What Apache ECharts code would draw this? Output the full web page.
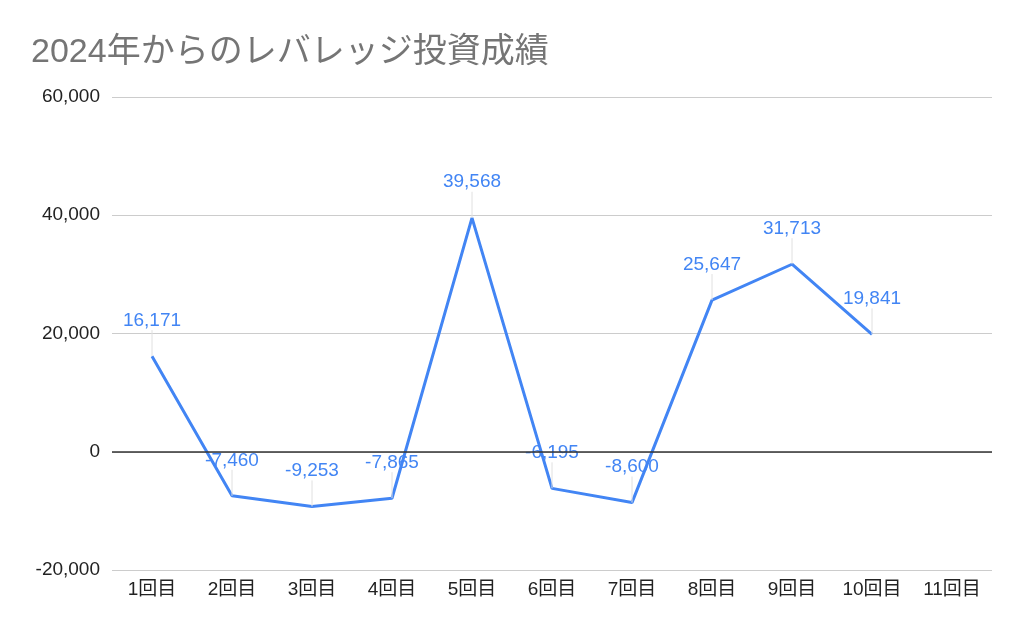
<!DOCTYPE html>
<html>
<head>
<meta charset="utf-8">
<script src="https://cdn.jsdelivr.net/npm/echarts@6/dist/echarts.min.js"></script>
<style>
html, body { margin: 0; padding: 0; background: #fff; }
#main { width: 1024px; height: 633px; }
</style>
</head>
<body>
<div id="main"></div>
<script>
var categories = ['1回目', '2回目', '3回目', '4回目', '5回目', '6回目', '7回目', '8回目', '9回目', '10回目', '11回目'];
var results = [16171, -7460, -9253, -7865, 39568, -6195, -8600, 25647, 31713, 19841, null];
var yTicks = [-20000, 0, 20000, 40000, 60000];

var font = '"Liberation Sans", Arial, "Noto Sans CJK JP", sans-serif';
var myChart = echarts.init(document.getElementById('main'));

myChart.setOption({
    animation: false,
    title: {
        text: '2024年からのレバレッジ投資成績',
        left: 26,
        top: 31,
        textStyle: {
            color: '#757575',
            fontSize: 34,
            fontWeight: 'normal',
            fontFamily: font
        }
    },
    grid: { left: 112, right: 32, top: 97, bottom: 63 },
    xAxis: {
        type: 'category',
        data: categories,
        boundaryGap: true,
        axisLine: { show: false },
        axisTick: { show: false },
        axisLabel: { color: '#222', fontSize: 19, fontFamily: font, margin: 10 }
    },
    yAxis: {
        type: 'value',
        min: yTicks[0],
        max: yTicks[yTicks.length - 1],
        interval: 20000,
        axisLine: { show: false },
        axisTick: { show: false },
        axisLabel: {
            color: '#222',
            fontSize: 19,
            fontFamily: font,
            margin: 12,
            formatter: function (v) { return v.toLocaleString('en-US'); }
        },
        splitLine: { lineStyle: { color: '#cccccc', width: 1 } }
    },
    series: [{
        type: 'line',
        data: results,
        symbol: 'circle',
        symbolSize: 0.1,
        showSymbol: true,
        lineStyle: { color: '#4285F4', width: 3 },
        itemStyle: { color: '#4285F4' },
        label: {
            show: true,
            position: 'top',
            distance: 4,
            color: '#4285F4',
            fontSize: 19,
            fontFamily: font,
            formatter: function (p) { return p.value == null ? '' : p.value.toLocaleString('en-US'); }
        },
        labelLayout: { dy: -22 },
        labelLine: { show: true, lineStyle: { color: '#e0e0e0', width: 1 } },
        markLine: {
            silent: true,
            symbol: 'none',
            label: { show: false },
            lineStyle: { color: '#333', width: 1.5, type: 'solid' },
            data: [{ yAxis: 0 }]
        }
    }]
});
</script>
</body>
</html>
